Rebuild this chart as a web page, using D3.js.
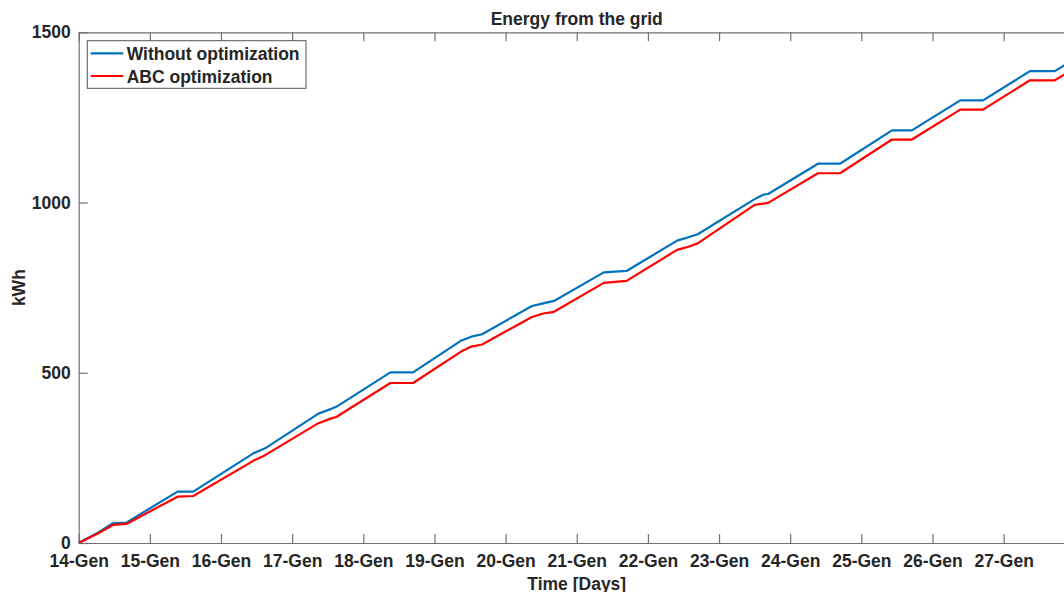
<!DOCTYPE html>
<html lang="en">
<head>
	<meta charset="UTF-8">
	<title>Energy from the grid</title>
	<script src="https://cdn.jsdelivr.net/npm/d3@7/dist/d3.min.js"></script>
	<style>
		body{margin:0;background:#fff;}
		text{font-family:"Liberation Sans",Arial,Helvetica,sans-serif;font-weight:bold;fill:#262626;}
	</style>
</head>
<body>
</body>
<script type="text/javascript">
// day offsets from 14-Gen 00:00 (breakpoints of the cumulative curves)
var days = [0, 0.27, 0.48, 0.67, 1.39, 1.61, 2.46, 2.62, 3.37, 3.55, 3.62, 4.38, 4.70, 5.38, 5.52, 5.67, 6.37, 6.53, 6.68, 7.38, 7.70, 8.41, 8.57, 8.70, 9.50, 9.62, 9.69, 10.39, 10.70, 11.43, 11.71, 12.39, 12.71, 13.37, 13.72, 14.0];
var withoutOpt = [0, 30, 58, 60, 151, 151, 264, 278, 380, 394, 400, 501, 501, 595, 606, 613, 696, 704, 711, 795, 799, 888, 898, 907, 1010, 1023, 1025, 1114, 1114, 1212, 1212, 1300, 1300, 1386, 1386, 1422];
var abcOpt = [0, 28, 53, 56, 136, 138, 242, 258, 352, 366, 370, 470, 470, 563, 577, 583, 664, 674, 679, 764, 770, 861, 870, 880, 993, 997, 999, 1086, 1086, 1185, 1185, 1273, 1273, 1359, 1359, 1395];
var dayLabels = ["14-Gen","15-Gen","16-Gen","17-Gen","18-Gen","19-Gen","20-Gen","21-Gen","22-Gen","23-Gen","24-Gen","25-Gen","26-Gen","27-Gen"];
var yTicks = [0, 500, 1000, 1500];
var seriesNames = ["Without optimization", "ABC optimization"];
var seriesColors = ["#0072BD", "#FF0000"];

var width = 1064;
var height = 592;
var plot = {left:78.7, right:1074.8, top:32.3, bottom:543};
var fontSize = "17.5px";
var axisColor = "#707070";

var svg = d3.select("body").append("svg").attr("width",width).attr("height",height);

var xScale = d3.scaleLinear().domain([0,14]).range([plot.left,plot.right]);
var yScale = d3.scaleLinear().domain([0,1500]).range([plot.bottom,plot.top]);

svg.append("clipPath").attr("id","plotclip").append("rect")
	.attr("x",plot.left).attr("y",plot.top)
	.attr("width",plot.right-plot.left).attr("height",plot.bottom-plot.top);

//坐标轴
var xAxis = d3.axisBottom(xScale).tickValues(d3.range(dayLabels.length))
	.tickFormat(function(d){return dayLabels[d];}).tickSizeInner(-9).tickSizeOuter(0).tickPadding(12);
var xTop = d3.axisTop(xScale).tickValues(d3.range(dayLabels.length))
	.tickFormat("").tickSizeInner(-9).tickSizeOuter(0);
var yAxis = d3.axisLeft(yScale).tickValues(yTicks).tickFormat(d3.format("d"))
	.tickSizeInner(-9).tickSizeOuter(0).tickPadding(8);
var yRight = d3.axisRight(yScale).tickValues(yTicks).tickFormat("").tickSizeInner(-9).tickSizeOuter(0);

function styleAxis(g){
	g.select(".domain").attr("stroke",axisColor).attr("stroke-width",1.2);
	g.selectAll(".tick line").attr("stroke",axisColor).attr("stroke-width",1.2);
	g.selectAll(".tick text").attr("font-size",fontSize).attr("fill","#262626")
		.style("font-family","\"Liberation Sans\",Arial,Helvetica,sans-serif").style("font-weight","bold");
}

svg.append("g").attr("transform","translate(0,"+plot.bottom+")").call(xAxis).call(styleAxis);
svg.append("g").attr("transform","translate(0,"+plot.top+")").call(xTop).call(styleAxis);
svg.append("g").attr("transform","translate("+plot.left+",0)").call(yAxis).call(styleAxis);
svg.append("g").attr("transform","translate("+plot.right+",0)").call(yRight).call(styleAxis);

//曲线
var series = [withoutOpt, abcOpt];
var line = d3.line()
	.x(function(d,i){return xScale(days[i]);})
	.y(function(d){return yScale(d);});

svg.append("g").attr("clip-path","url(#plotclip)")
	.selectAll("path").data(series).enter().append("path")
	.attr("d",line).attr("fill","none")
	.attr("stroke",function(d,i){return seriesColors[i];})
	.attr("stroke-width",2.2).attr("stroke-linejoin","round");

//标题
svg.append("text").attr("x",(plot.left+plot.right)/2).attr("y",25)
	.attr("text-anchor","middle").attr("font-size",fontSize).text("Energy from the grid");
svg.append("text").attr("x",(plot.left+plot.right)/2).attr("y",589.5)
	.attr("text-anchor","middle").attr("font-size",fontSize).text("Time [Days]");
svg.append("text").attr("transform","translate(25,"+((plot.top+plot.bottom)/2)+") rotate(-90)")
	.attr("text-anchor","middle").attr("font-size",fontSize).text("kWh");

//图例
var legend = svg.append("g").attr("transform","translate(87.3,40.7)");
legend.append("rect").attr("width",218.7).attr("height",47.6)
	.attr("fill","#fff").attr("stroke","#555").attr("stroke-width",1);
var item = legend.selectAll("g.item").data(seriesNames).enter().append("g").attr("class","item")
	.attr("transform",function(d,i){return "translate(0,"+(12.6+i*22.7)+")";});
item.append("line").attr("x1",3.4).attr("x2",36).attr("y1",0).attr("y2",0)
	.attr("stroke",function(d,i){return seriesColors[i];}).attr("stroke-width",2.2);
item.append("text").attr("x",39.4).attr("y",7).attr("font-size",fontSize).text(function(d){return d;});
</script>
</html>
